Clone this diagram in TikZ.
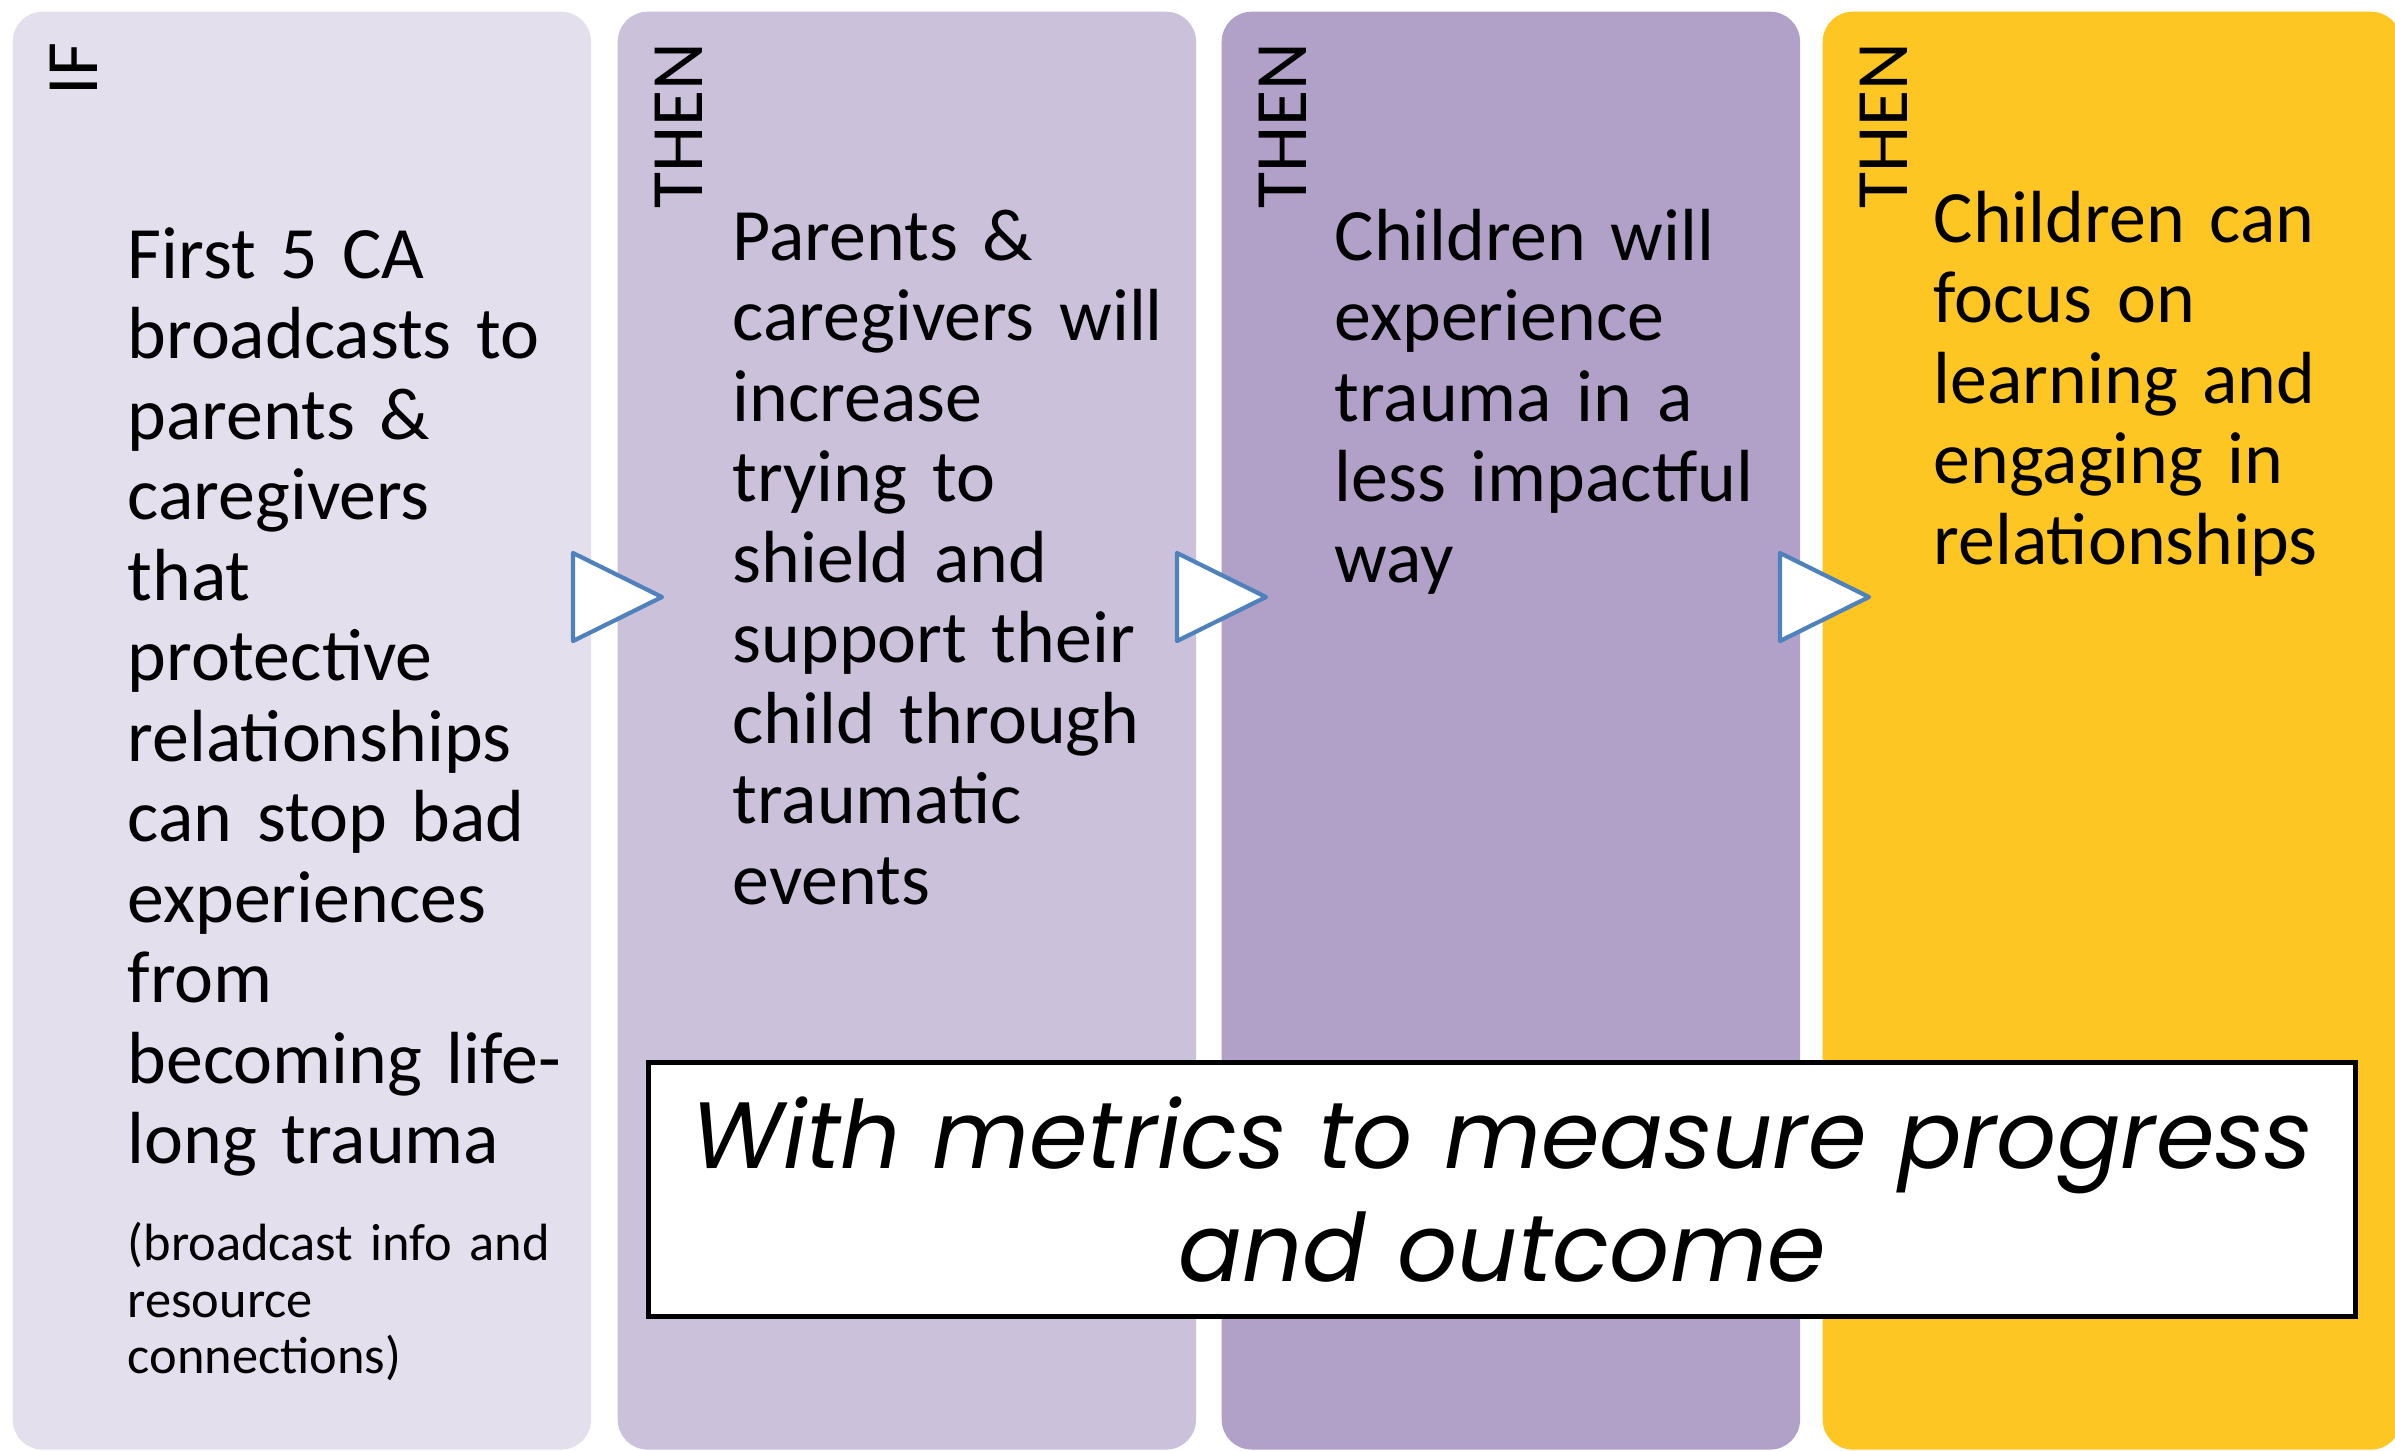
\documentclass[tikz,border=0pt]{standalone}
\usepackage{fontspec}
\setmainfont{Carlito}
\newfontfamily\metricsfont{Poppins}

\definecolor{ifcol}{HTML}{E4DFEC}
\definecolor{thenacol}{HTML}{CCC1DA}
\definecolor{thenbcol}{HTML}{B1A0C7}
\definecolor{thenccol}{HTML}{FEC623}
\definecolor{chevblue}{HTML}{4F81BD}

\tikzset{
  panel/.style={rectangle, rounded corners=8.5pt, inner sep=0, anchor=north west,
    minimum width=5.78cm, minimum height=14.37cm},
  tag/.style={rotate=90, anchor=base east, inner sep=0,
    font=\fontsize{21}{22.9}\selectfont},
  stage/.style={anchor=base west, inner sep=0, text width=5.2cm, align=left,
    font=\fontsize{21}{22.9}\selectfont},
  note/.style={anchor=base west, inner sep=0, text width=5.2cm, align=left,
    font=\fontsize{14.9}{16.2}\selectfont},
  chevron/.style={draw=chevblue, fill=white, line width=1.2pt, line join=round},
}

\begin{document}
\begin{tikzpicture}[x=0.01cm, y=-0.01cm]
\useasboundingbox (0,0) rectangle (2395,1450);
\clip (0,0) rectangle (2395,1450);
\fill[white] (0,0) rectangle (2395,1450);

% the four columns
\node[panel, fill=ifcol] (ifpanel) at (12,11) {};
\node[panel, fill=thenacol] (thenapanel) at (617,11) {};
\node[panel, fill=thenbcol] (thenbpanel) at (1221,11) {};
\node[panel, fill=thenccol] (thencpanel) at (1822,11) {};

\node[tag] (iftag) at (97,42) {IF};
\node[tag] (thenatag) at (702,42) {THEN};
\node[tag] (thenbtag) at (1306,42) {THEN};
\node[tag] (thenctag) at (1907,42) {THEN};

\node[stage] (iftext) at (127,278) {First 5 CA\\broadcasts to\\parents \&\\caregivers\\that\\protective\\relationships\\can stop bad\\experiences\\from\\becoming life-\\long trauma};
\node[note] (ifnote) at (127,1260) {(broadcast info and\\resource\\connections)};
\node[stage] (thenatext) at (732,260) {Parents \&\\caregivers will\\increase\\trying to\\shield and\\support their\\child through\\traumatic\\events};
\node[stage] (thenbtext) at (1334,260) {Children will\\experience\\trauma in a\\less impactful\\way};
\node[stage] (thenctext) at (1933,242) {Children can\\focus on\\learning and\\engaging in\\relationships};

% chevrons between the columns
\path[chevron] (573,553) -- (662,597) -- (573,641) -- cycle;
\path[chevron] (1177,553) -- (1266,597) -- (1177,641) -- cycle;
\path[chevron] (1780,553) -- (1869,597) -- (1780,641) -- cycle;

% metrics box
\node[panel, rounded corners=0pt, draw=black, line width=1.3pt, fill=white,
  minimum width=17.06cm, minimum height=2.54cm] (metrics) at (646,1060) {};
\node[anchor=base, inner sep=0, text width=17cm, align=center,
  font=\metricsfont\itshape\fontsize{26.8}{32.4}\selectfont] (metricstext) at (1502,1168)
  {With metrics to measure progress\\and outcome};
\end{tikzpicture}
\end{document}
